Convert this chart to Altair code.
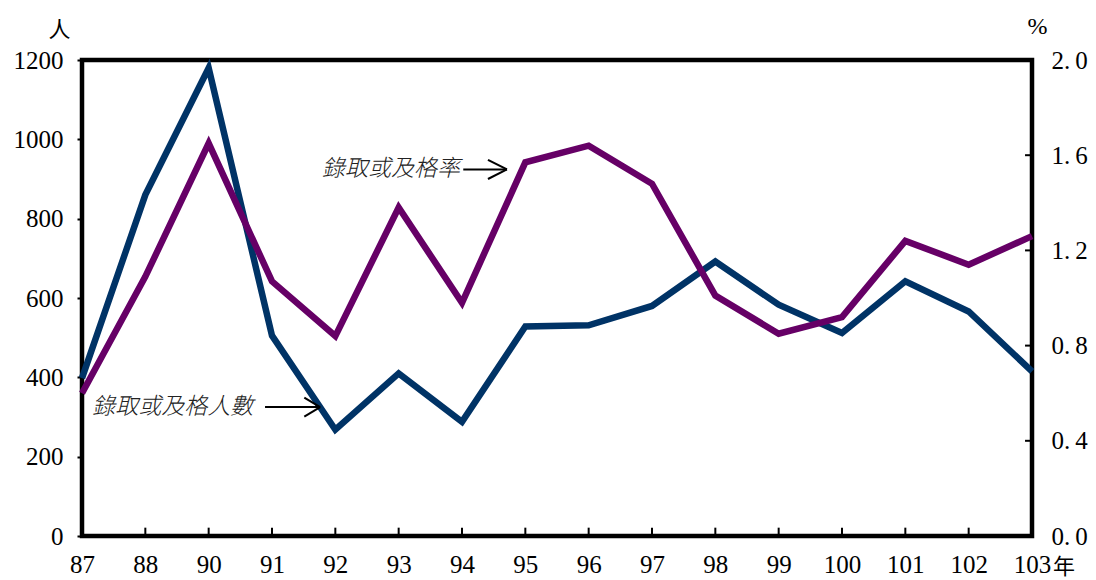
import altair as alt
import pandas as pd

# ---- data ----
years = ["87", "88", "90", "91", "92", "93", "94", "95", "96", "97",
         "98", "99", "100", "101", "102", "103"]
people = [398, 860, 1180, 505, 268, 410, 288, 528, 531, 580,
          692, 583, 512, 642, 566, 415]
rate = [0.60, 1.09, 1.65, 1.07, 0.84, 1.38, 0.98, 1.57, 1.64, 1.48,
        1.01, 0.85, 0.92, 1.24, 1.14, 1.26]
left_ticks = [0, 200, 400, 600, 800, 1000, 1200]
right_ticks = [0.0, 0.4, 0.8, 1.2, 1.6, 2.0]
label_people = "錄取或及格人數"
label_rate = "錄取或及格率"

idx = list(range(len(years)))
df = pd.DataFrame({"idx": idx, "year": years, "people": people, "rate": rate})

W, H = 950, 476
NUM_FONT = "Liberation Serif"
CJK_FONT = "Noto Sans CJK TC"
NUM_SIZE = 25

xscale = alt.Scale(domain=[0, len(years) - 1], nice=False, zero=False)
pscale = alt.Scale(domain=[0, 1200], nice=False)
rscale = alt.Scale(domain=[0, 2], nice=False)

label_arr = "[" + ",".join(f"'{y}'" for y in years) + "]"
x_axis = alt.Axis(values=idx, labelExpr=f"{label_arr}[datum.value]", ticks=False,
                  domain=False, grid=False, labelFontSize=NUM_SIZE, labelFont=NUM_FONT,
                  labelColor="black", labelPadding=16, title=None,
                  labelFlush=False, labelOverlap=False)
left_axis = alt.Axis(values=left_ticks, format="d", title="人", titleAngle=0,
                     titleX=-23, titleY=-31,
                     titleAlign="center", titleBaseline="middle", titleFont=CJK_FONT,
                     titleFontSize=22, titleFontWeight="normal", titleColor="black",
                     tickSize=5, tickWidth=2, tickColor="black", labelPadding=14,
                     domain=False, grid=False, labelFontSize=NUM_SIZE, labelFont=NUM_FONT,
                     labelColor="black", labelFlush=False, labelOverlap=False)
right_axis = alt.Axis(orient="right", values=right_ticks,
                      labelExpr="replace(format(datum.value, '.1f'), '.', '.\u2009')",
                      ticks=False, labelPadding=19, domain=False, grid=False,
                      labelFontSize=NUM_SIZE, labelFont=NUM_FONT, labelColor="black",
                      labelFlush=False, labelOverlap=False,
                      title="%", titleAngle=0, titleX=5, titleY=-34,
                      titleAlign="center", titleBaseline="middle", titleFont=NUM_FONT,
                      titleFontSize=24, titleFontWeight="normal", titleColor="black")

line_p = alt.Chart(df).mark_line(color="#003366", strokeWidth=6.5).encode(
    x=alt.X("idx:Q", scale=xscale, axis=x_axis),
    y=alt.Y("people:Q", scale=pscale, axis=left_axis),
)
line_r = alt.Chart(df).mark_line(color="#660066", strokeWidth=6.5).encode(
    x=alt.X("idx:Q", scale=xscale, title=None),
    y=alt.Y("rate:Q", scale=rscale, axis=right_axis),
)

# inward tick marks on the bottom and right axes
BT_LEN = 21      # in people units
RT_LEN = 0.11    # in index units
bt = pd.DataFrame({"idx": idx[1:-1], "y0": 0, "y1": BT_LEN})
bottom_ticks = alt.Chart(bt).mark_rule(color="black", strokeWidth=2).encode(
    x=alt.X("idx:Q", scale=xscale, title=None),
    y=alt.Y("y0:Q", scale=pscale, axis=None),
    y2="y1:Q",
)
rt = pd.DataFrame({"r": right_ticks[1:-1], "x0": len(years) - 1 - RT_LEN, "x1": len(years) - 1})
right_tick_marks = alt.Chart(rt).mark_rule(color="black", strokeWidth=2).encode(
    x=alt.X("x0:Q", scale=xscale, title=None),
    x2="x1:Q",
    y=alt.Y("r:Q", scale=rscale, axis=None),
)

# annotation arrows (shaft + two barbs), positions in data units
p_y, r_y = 325, 924
arrows = pd.DataFrame({
    "xa": [2.89, 3.76, 3.76, 6.02, 6.71, 6.71],
    "xb": [3.76, 3.51, 3.51, 6.71, 6.41, 6.41],
    "ya": [p_y, p_y, p_y, r_y, r_y, r_y],
    "yb": [p_y, p_y + 24, p_y - 24, r_y, r_y + 24, r_y - 24],
})
arrow_marks = alt.Chart(arrows).mark_rule(color="black", strokeWidth=2).encode(
    x=alt.X("xa:Q", scale=xscale, title=None),
    x2="xb:Q",
    y=alt.Y("ya:Q", scale=pscale, axis=None),
    y2="yb:Q",
)

notes = pd.DataFrame({"xa": [0.16, 3.79], "ya": [p_y, r_y], "t": [label_people, label_rate]})
note_marks = alt.Chart(notes).mark_text(
    align="left", baseline="middle", font=CJK_FONT, fontSize=23,
    fontStyle="italic", fontWeight=300, color="#222222"
).encode(
    x=alt.X("xa:Q", scale=xscale, title=None),
    y=alt.Y("ya:Q", scale=pscale, axis=None),
    text="t:N",
)

nian = pd.DataFrame({"xa": [len(years) - 1], "ya": [0], "t": ["年"]})
nian_mark = alt.Chart(nian).mark_text(
    align="center", baseline="middle", font=CJK_FONT, fontSize=22,
    color="black", dx=32, dy=31
).encode(
    x=alt.X("xa:Q", scale=xscale, title=None),
    y=alt.Y("ya:Q", scale=pscale, axis=None),
    text="t:N",
)

chart = alt.layer(
    line_p, line_r, bottom_ticks, right_tick_marks, arrow_marks, note_marks, nian_mark
).resolve_scale(y="independent").properties(
    width=W, height=H,
    autosize=alt.AutoSizeParams(type="none"),
    padding={"left": 74, "top": 52, "right": 56, "bottom": 44},
    background="white",
).configure_view(stroke="black", strokeWidth=4.5)

chart.save("out.html", embed_options={"renderer": "svg", "actions": False})
